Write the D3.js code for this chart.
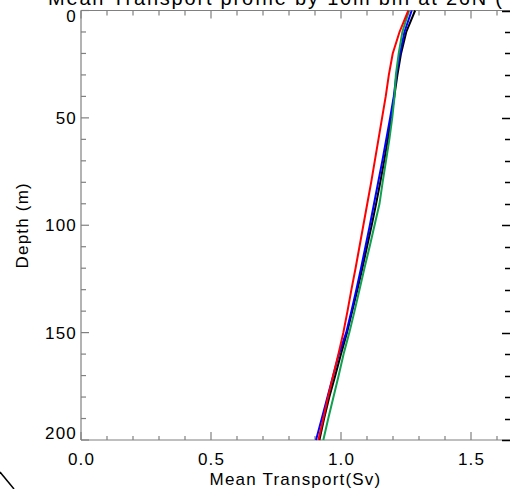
<!DOCTYPE html>
<html>
<head>
<meta charset="utf-8">
<script src="https://cdn.jsdelivr.net/npm/d3@7"></script>
<style>
  body { margin: 0; background: #fff; }
  svg { display: block; font-family: "Liberation Sans", Arial, sans-serif; }
</style>
</head>
<body>
<svg id="chart" width="510" height="489"></svg>
<script>
var depths = [0, 10, 20, 30, 40, 50, 60, 70, 80, 90, 100, 110, 120, 130, 140, 150, 160, 170, 180, 190, 200];

var blackVals = [1.285, 1.251, 1.231, 1.217, 1.205, 1.193, 1.180, 1.166, 1.151, 1.135, 1.118, 1.100, 1.082, 1.063, 1.043, 1.023, 1.000, 0.978, 0.955, 0.935, 0.917];
var blueVals = [1.272, 1.244, 1.227, 1.213, 1.203, 1.189, 1.174, 1.159, 1.143, 1.127, 1.111, 1.094, 1.077, 1.059, 1.040, 1.020, 0.992, 0.970, 0.948, 0.926, 0.904];
var greenVals = [1.262, 1.236, 1.222, 1.211, 1.206, 1.197, 1.186, 1.173, 1.160, 1.148, 1.129, 1.110, 1.090, 1.071, 1.052, 1.032, 1.010, 0.991, 0.971, 0.951, 0.932];
var redVals = [1.259, 1.225, 1.199, 1.184, 1.172, 1.158, 1.144, 1.130, 1.116, 1.101, 1.086, 1.071, 1.056, 1.040, 1.025, 1.009, 0.990, 0.970, 0.950, 0.932, 0.913];

var xTicks = [0.0, 0.5, 1.0, 1.5];
var yTicks = [0, 50, 100, 150, 200];

var series = [
    {name: "black", color: "#000000", values: blackVals},
    {name: "blue", color: "#0000ff", values: blueVals},
    {name: "green", color: "#10a050", values: greenVals},
    {name: "red", color: "#ff0000", values: redVals}
];

var svg = d3.select("#chart");
var pLeft = 81, pRight = 510, pTop = 10.5, pBottom = 440;

var x = d3.scaleLinear().domain([0, 1.65]).range([pLeft, pRight]);
var y = d3.scaleLinear().domain([0, 200]).range([pTop, pBottom]);

var axisColor = "#808080";

// title (mostly cut off by the top edge)
svg.append("text")
    .attr("x", 48)
    .attr("y", 5)
    .attr("font-size", 20)
    .attr("letter-spacing", 1.8)
    .text("Mean Transport profile by 10m bin at 26N (");

// frame
svg.append("line").attr("x1", pLeft).attr("x2", pLeft).attr("y1", pTop).attr("y2", pBottom)
    .attr("stroke", axisColor).attr("stroke-width", 1.2);
svg.append("line").attr("x1", pLeft).attr("x2", pRight).attr("y1", pBottom).attr("y2", pBottom)
    .attr("stroke", axisColor).attr("stroke-width", 1.2);
svg.append("line").attr("x1", pLeft).attr("x2", pRight).attr("y1", pTop).attr("y2", pTop)
    .attr("stroke", axisColor).attr("stroke-width", 1.2);

// bottom axis, ticks pointing up
var xMinor = d3.range(0, 17).map(function(i) { return i / 10; });
svg.append("g").selectAll("line").data(xMinor).enter().append("line")
    .attr("x1", function(d) { return x(d); })
    .attr("x2", function(d) { return x(d); })
    .attr("y1", pBottom)
    .attr("y2", function(d, i) { return pBottom - (i % 5 == 0 ? 8 : 4); })
    .attr("stroke", axisColor).attr("stroke-width", 1.2);
// top axis, ticks pointing down
svg.append("g").selectAll("line").data(xMinor).enter().append("line")
    .attr("x1", function(d) { return x(d); })
    .attr("x2", function(d) { return x(d); })
    .attr("y1", pTop)
    .attr("y2", function(d, i) { return pTop + (i % 5 == 0 ? 8 : 5); })
    .attr("stroke", axisColor).attr("stroke-width", 1.2);

svg.append("g").selectAll("text").data(xTicks).enter().append("text")
    .attr("x", function(d) { return x(d) + 0.6; })
    .attr("y", 465)
    .attr("text-anchor", "middle")
    .attr("font-size", 17)
    .attr("letter-spacing", 1.2)
    .text(function(d) { return d.toFixed(1); });

svg.append("text")
    .attr("x", (pLeft + pRight) / 2)
    .attr("y", 485)
    .attr("text-anchor", "middle")
    .attr("font-size", 17)
    .attr("letter-spacing", 1.2)
    .text("Mean Transport(Sv)");

// left and right axes
var yMinor = d3.range(0, 21).map(function(i) { return i * 10; });
svg.append("g").selectAll("line").data(yMinor).enter().append("line")
    .attr("x1", pLeft)
    .attr("x2", function(d, i) { return pLeft + (i % 5 == 0 ? 8 : 5); })
    .attr("y1", function(d) { return y(d); })
    .attr("y2", function(d) { return y(d); })
    .attr("stroke", axisColor).attr("stroke-width", 1.2);
svg.append("g").selectAll("line").data(yMinor).enter().append("line")
    .attr("x1", pRight)
    .attr("x2", function(d, i) { return pRight - (i % 5 == 0 ? 8 : 5); })
    .attr("y1", function(d) { return Math.round(y(d)) + 0.5; })
    .attr("y2", function(d) { return Math.round(y(d)) + 0.5; })
    .attr("stroke", "#000").attr("stroke-width", 1.5);

svg.append("g").selectAll("text").data(yTicks).enter().append("text")
    .attr("x", 77)
    .attr("y", function(d) { return y(d); })
    .attr("dy", function(d) { return d == 0 ? "0.68em" : (d == 200 ? "-0.05em" : "0.36em"); })
    .attr("text-anchor", "end")
    .attr("font-size", 17)
    .attr("letter-spacing", 1.2)
    .text(function(d) { return d; });

svg.append("text")
    .attr("transform", "translate(28," + ((pTop + pBottom) / 2) + ") rotate(-90)")
    .attr("text-anchor", "middle")
    .attr("font-size", 17)
    .attr("letter-spacing", 1.2)
    .text("Depth (m)");

// profiles
var line = d3.line()
    .x(function(d) { return x(d.v); })
    .y(function(d) { return y(d.depth); });

svg.append("g").selectAll("path").data(series).enter().append("path")
    .attr("d", function(s) {
        return line(s.values.map(function(v, i) { return {v: v, depth: depths[i]}; }));
    })
    .attr("fill", "none")
    .attr("stroke", function(s) { return s.color; })
    .attr("stroke-width", 2);

// stray stroke at lower-left corner
svg.append("line")
    .attr("x1", 0).attr("y1", 472).attr("x2", 14).attr("y2", 489)
    .attr("stroke", "#000").attr("stroke-width", 1.5);
</script>
</body>
</html>
